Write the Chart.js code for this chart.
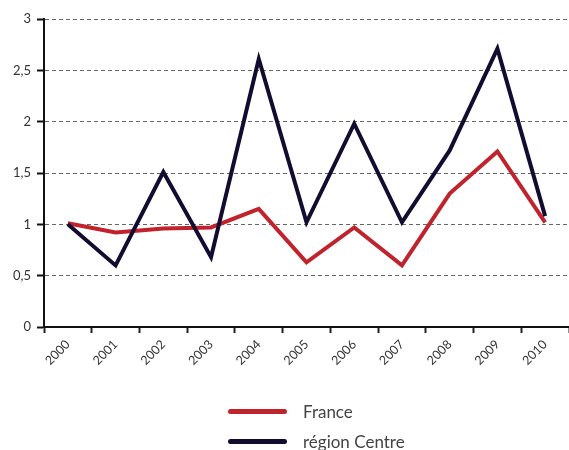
<!DOCTYPE html>
<html>
<head>
<meta charset="utf-8">
<script src="https://cdn.jsdelivr.net/npm/chart.js@4"></script>
<style>
  body { margin: 0; background: #fff; }
  .wrap { position: relative; width: 569px; height: 450px; }
  .legend { position: absolute; left: 228px; top: 396px; font-family: Lato, "Open Sans", sans-serif; font-size: 17px; color: #444; }
  .legend div { display: flex; align-items: center; height: 30px; }
  .legend span.line { display: inline-block; width: 59px; height: 5px; border-radius: 3px; margin-right: 16px; }
</style>
</head>
<body>
<div class="wrap">
  <canvas id="trendChart" width="569" height="450"></canvas>
  <div class="legend" id="legend"></div>
</div>
<script>
// Data
const years = ['2000', '2001', '2002', '2003', '2004', '2005', '2006', '2007', '2008', '2009', '2010'];
const france = [1.01, 0.92, 0.96, 0.97, 1.15, 0.63, 0.97, 0.60, 1.30, 1.71, 1.02];
const regionCentre = [1.00, 0.60, 1.51, 0.68, 2.61, 1.02, 1.98, 1.02, 1.72, 2.71, 1.08];
const yTicks = [0, 0.5, 1, 1.5, 2, 2.5, 3];

const seriesNames = ['France', 'région Centre'];
const seriesColors = ['#c0232c', '#140c30'];

Chart.defaults.font.family = 'Lato, "Open Sans", sans-serif';
Chart.defaults.color = '#333';

const ctx = document.getElementById('trendChart').getContext('2d');
const trendChart = new Chart(ctx, {
  type: 'line',
  data: {
    labels: years,
    datasets: [
      {
        label: seriesNames[1],
        data: regionCentre,
        borderColor: seriesColors[1],
        borderWidth: 4,
        pointRadius: 0,
        tension: 0,
        borderJoinStyle: 'miter'
      },
      {
        label: seriesNames[0],
        data: france,
        borderColor: seriesColors[0],
        borderWidth: 4,
        pointRadius: 0,
        tension: 0,
        borderJoinStyle: 'miter'
      }
    ]
  },
  options: {
    responsive: false,
    animation: false,
    layout: { padding: { top: 19, right: 0, left: 0, bottom: 0 } },
    plugins: {
      legend: { display: false },
      tooltip: { enabled: false }
    },
    scales: {
      x: {
        offset: true,
        grid: {
          offset: true,
          drawOnChartArea: false,
          tickLength: 6,
          tickColor: '#222',
          tickWidth: 2
        },
        border: { color: '#111', width: 2 },
        ticks: {
          minRotation: 45,
          maxRotation: 45,
          padding: 4,
          font: { size: 12.5 },
          color: '#333'
        },
        afterFit: (scale) => { scale.height = 123; }
      },
      y: {
        min: 0,
        max: 3,
        afterBuildTicks: (scale) => { scale.ticks = yTicks.map(v => ({ value: v })); },
        grid: {
          color: '#666',
          lineWidth: 1,
          tickLength: 7,
          tickColor: '#111',
          tickWidth: 2
        },
        border: { color: '#111', width: 2, dash: [4, 3] },
        ticks: {
          padding: 6,
          font: { size: 13 },
          color: '#333',
          callback: (v) => String(v).replace('.', ',')
        },
        afterFit: (scale) => { scale.width = 44; }
      }
    }
  }
});

// Legend (built from the datasets, France first)
const legend = document.getElementById('legend');
[...trendChart.data.datasets].reverse().forEach(ds => {
  const row = document.createElement('div');
  row.innerHTML = '<span class="line" style="background:' + ds.borderColor + '"></span>' + ds.label;
  legend.appendChild(row);
});
</script>
</body>
</html>
